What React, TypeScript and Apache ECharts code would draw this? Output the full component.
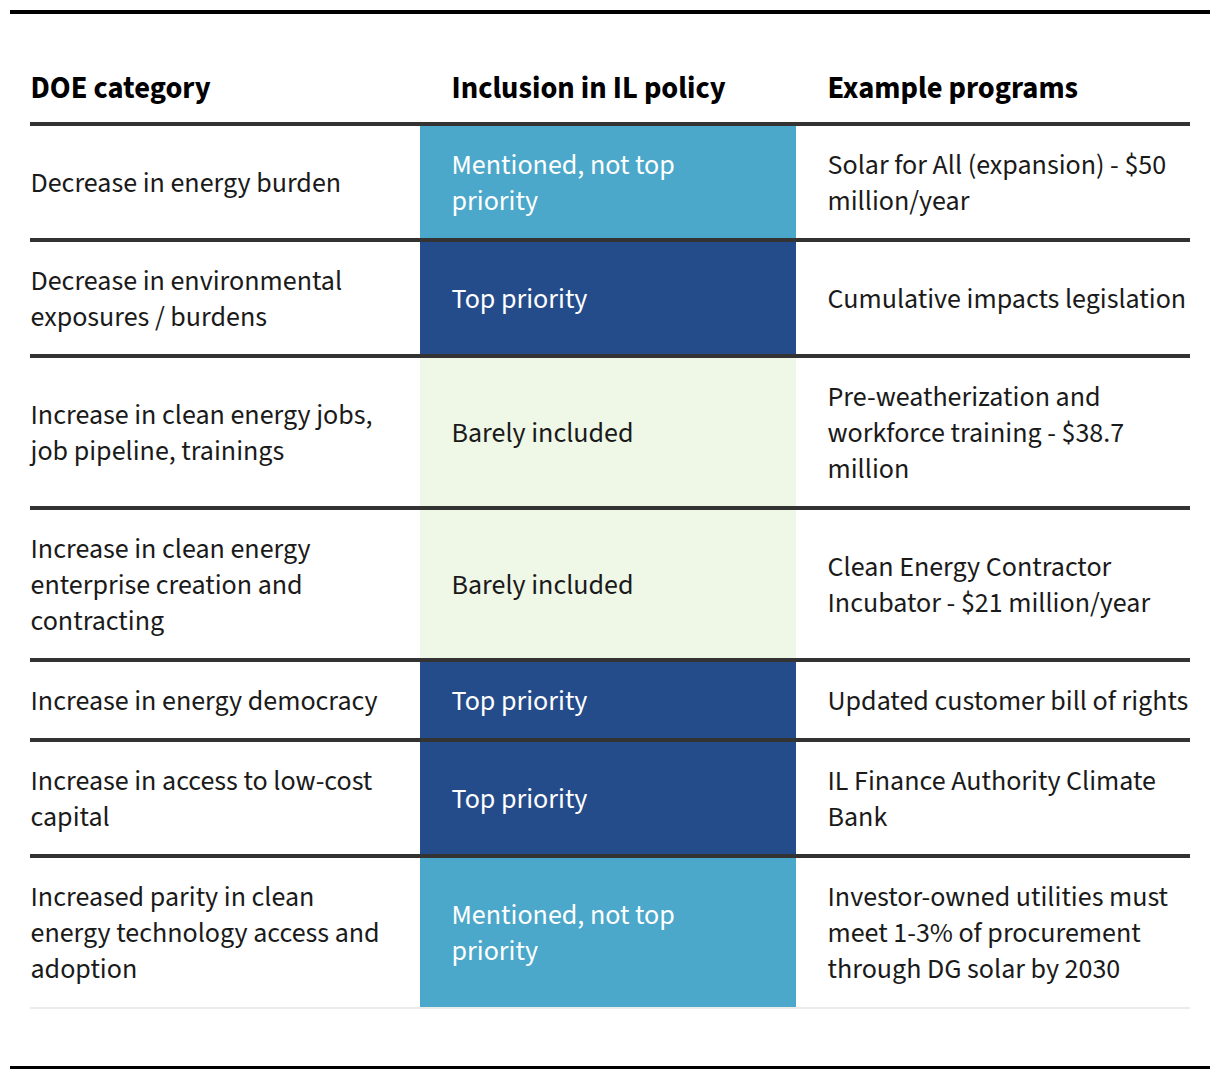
import React, { useEffect, useRef } from "react";
import * as echarts from "echarts";

const headers = ["DOE category", "Inclusion in IL policy", "Example programs"];

const categories = [
  "Decrease in energy burden",
  "Decrease in environmental\nexposures / burdens",
  "Increase in clean energy jobs,\njob pipeline, trainings",
  "Increase in clean energy\nenterprise creation and\ncontracting",
  "Increase in energy democracy",
  "Increase in access to low-cost\ncapital",
  "Increased parity in clean\nenergy technology access and\nadoption",
];

const inclusion = [
  "Mentioned, not top\npriority",
  "Top priority",
  "Barely included",
  "Barely included",
  "Top priority",
  "Top priority",
  "Mentioned, not top\npriority",
];

const examples = [
  "Solar for All (expansion) - $50\nmillion/year",
  "Cumulative impacts legislation",
  "Pre-weatherization and\nworkforce training - $38.7\nmillion",
  "Clean Energy Contractor\nIncubator - $21 million/year",
  "Updated customer bill of rights",
  "IL Finance Authority Climate\nBank",
  "Investor-owned utilities must\nmeet 1-3% of procurement\nthrough DG solar by 2030",
];

const levelStyle: Record<string, { fill: string; text: string }> = {
  "Top priority": { fill: "#254C8A", text: "#ffffff" },
  "Mentioned, not top priority": { fill: "#4BA8CA", text: "#ffffff" },
  "Barely included": { fill: "#EFF7E7", text: "#1a1a1a" },
};

const FONT = "'Source Sans Pro', 'Source Sans 3', Lato, 'Noto Sans', sans-serif";
const LINE_H = 36;
const PAD = 44;
// column edges in table units
const COLS = [0, 390, 766, 1160];
const TEXT_OFFSET = [0.5, 31.5, 31.5];

const lineCount = (s: string) => s.split("\n").length;

export default function App() {
  const ref = useRef<HTMLDivElement>(null);

  useEffect(() => {
    if (!ref.current) return;
    const chart = echarts.init(ref.current, null, { renderer: "svg" });

    let acc = 0;
    const rows = categories.map((c, i) => {
      const n = Math.max(lineCount(c), lineCount(inclusion[i]), lineCount(examples[i]));
      const h = n * LINE_H + PAD;
      const r = [i, acc, acc + h];
      acc += h;
      return r;
    });
    const total = acc;

    const option: any = {
      animation: false,
      grid: { left: 30, top: 124, width: 1160, height: total },
      xAxis: { type: "value", min: 0, max: COLS[3], show: false },
      yAxis: { type: "value", min: 0, max: total, inverse: true, show: false },
      graphic: [
        { type: "line", shape: { x1: 10, y1: 12, x2: 1210, y2: 12 }, style: { stroke: "#000", lineWidth: 4 } },
        { type: "line", shape: { x1: 10, y1: 1067.5, x2: 1210, y2: 1067.5 }, style: { stroke: "#000", lineWidth: 3 } },
        ...headers.map((h, i) => ({
          type: "text",
          x: 30 + COLS[i] + TEXT_OFFSET[i],
          y: 88.5,
          style: {
            text: h,
            fill: "#000",
            font: `bold 30.5px ${FONT}`,
            align: "left",
            verticalAlign: "middle",
          },
        })),
      ],
      series: [
        {
          type: "custom",
          data: rows,
          renderItem: (params: any, api: any) => {
            const i = api.value(0);
            const y0 = api.value(1);
            const y1 = api.value(2);
            const level = inclusion[i].replace("\n", " ");
            const st = levelStyle[level];
            const pTL = api.coord([COLS[1], y0]);
            const pBR = api.coord([COLS[2], y1]);
            const left = api.coord([COLS[0], y0]);
            const right = api.coord([COLS[3], y0]);
            const midY = (pTL[1] + pBR[1]) / 2 + 0.5;
            const texts = [categories[i], inclusion[i], examples[i]];
            const children: any[] = [
              {
                type: "rect",
                shape: { x: pTL[0], y: pTL[1], width: pBR[0] - pTL[0], height: pBR[1] - pTL[1] },
                style: { fill: st.fill },
              },
              {
                type: "line",
                shape: { x1: left[0], y1: left[1], x2: right[0], y2: right[1] },
                style: { stroke: "#333333", lineWidth: 4 },
              },
            ];
            texts.forEach((t, c) => {
              const px = api.coord([COLS[c], y0])[0] + TEXT_OFFSET[c];
              children.push({
                type: "text",
                x: px,
                y: midY,
                style: {
                  text: t,
                  fill: c === 1 ? st.text : "#1a1a1a",
                  fontSize: 28,
                  fontFamily: FONT,
                  lineHeight: LINE_H,
                  align: "left",
                  verticalAlign: "middle",
                },
              });
            });
            if (i === categories.length - 1) {
              const bl = api.coord([COLS[0], y1]);
              const br = api.coord([COLS[3], y1]);
              children.push({
                type: "line",
                shape: { x1: bl[0], y1: bl[1], x2: br[0], y2: br[1] },
                style: { stroke: "#EBEBEB", lineWidth: 2 },
              });
            }
            return { type: "group", children };
          },
        },
      ],
    };
    chart.setOption(option);
    return () => chart.dispose();
  }, []);

  return (
    <div
      ref={ref}
      style={{ position: "fixed", left: 0, top: 0, width: 1220, height: 1078, background: "#fff" }}
    />
  );
}
